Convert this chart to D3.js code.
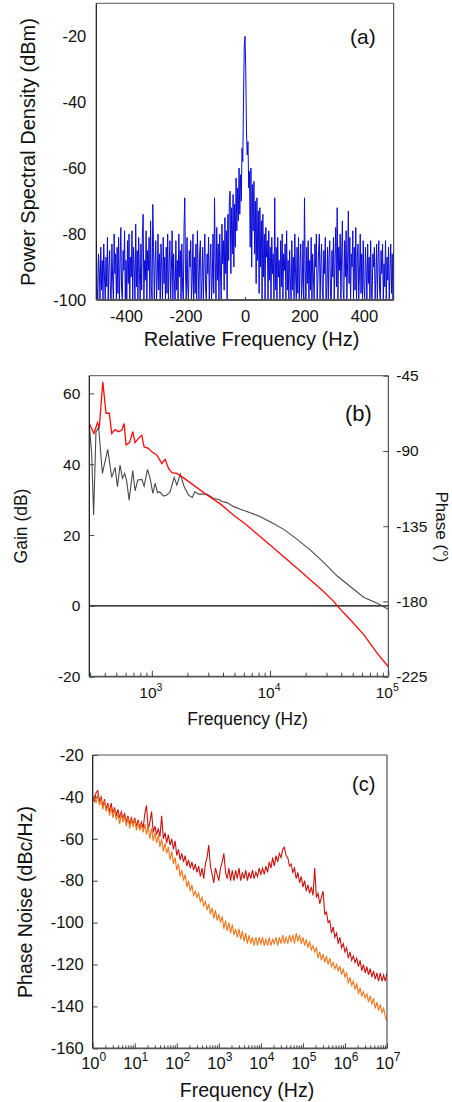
<!DOCTYPE html>
<html>
<head>
<meta charset="utf-8">
<script src="https://cdn.jsdelivr.net/npm/d3@7"></script>
<style>
  html, body { margin: 0; padding: 0; background: #fff; }
  svg { display: block; }
  text { font-family: "Liberation Sans", Arial, sans-serif; fill: #111; }
</style>
</head>
<body>
<svg id="chart" width="452" height="1102"></svg>
<script>
// ---------------- DATA ----------------
// Panel (a): power spectral density vs relative frequency (2.5 Hz grid, -500..500)
const freqA = d3.range(0, 401).map(i => -500 + i * 2.5);
const psdA = [
  -82,-95,-100,-86,-91,-100,-84,-97,-88,-100,-83,-93,-100,-87,-96,-81,-100,-90,-85,-99,
  -100,-83,-94,-100,-80,-92,-86,-100,-84,-98,-81,-100,-89,-78,-97,-100,-85,-91,-79,-100,
  -88,-100,-82,-95,-80,-100,-87,-93,-79,-100,-84,-90,-100,-77,-96,-85,-100,-81,-92,-100,
  -83,-97,-80,-74,-100,-88,-94,-79,-100,-85,-91,-81,-100,-76,-96,-100,-71,-84,-100,-89,
  -82,-100,-93,-80,-97,-86,-100,-83,-90,-100,-81,-95,-87,-100,-84,-98,-80,-100,-89,-82,
  -100,-91,-79,-100,-86,-95,-100,-82,-97,-88,-100,-80,-93,-85,-100,-83,-96,-100,-78,-69,
  -92,-100,-81,-96,-100,-85,-90,-82,-100,-94,-80,-100,-87,-98,-83,-100,-79,-91,-100,-86,
  -82,-100,-95,-84,-100,-88,-80,-97,-100,-86,-92,-81,-100,-89,-83,-100,-94,-80,-98,-69,
  -88,-100,-78,-94,-83,-100,-80,-91,-100,-77,-89,-82,-97,-75,-92,-79,-100,-74,-88,-70,
  -67,-92,-72,-86,-68,-90,-71,-84,-63,-79,-66,-76,-60,-74,-62,-70,-54,-58,-40,-23,
  -20,-30,-49,-56,-52,-66,-61,-84,-60,-90,-65,-79,-64,-86,-70,-95,-69,-88,-73,-98,
  -72,-90,-76,-100,-74,-93,-80,-100,-78,-87,-82,-100,-79,-94,-84,-100,-81,-92,-86,-100,
  -69,-97,-84,-100,-81,-93,-88,-100,-82,-96,-80,-100,-86,-91,-83,-100,-79,-97,-88,-100,
  -85,-94,-100,-82,-97,-87,-100,-80,-92,-100,-84,-98,-81,-100,-89,-83,-100,-95,-82,-100,
  -69,-91,-100,-84,-95,-82,-100,-88,-97,-81,-100,-86,-93,-100,-83,-90,-80,-100,-94,-85,
  -80,-100,-89,-83,-97,-100,-85,-92,-81,-100,-96,-84,-100,-87,-82,-99,-100,-85,-93,-81,
  -100,-88,-78,-96,-72,-100,-84,-91,-80,-100,-86,-76,-97,-100,-82,-93,-79,-100,-88,-73,
  -95,-81,-100,-86,-90,-79,-100,-84,-97,-78,-100,-88,-83,-100,-92,-80,-98,-86,-100,-82,
  -96,-100,-84,-91,-100,-83,-95,-87,-100,-82,-98,-100,-86,-90,-84,-100,-93,-83,-100,-88,
  -82,-97,-100,-85,-92,-83,-100,-89,-96,-82,-100,-87,-94,-84,-100,-91,-83,-98,-86,-100,
  -85
];
const xTicksA = [-400, -200, 0, 200, 400];
const yTicksA = [-100, -80, -60, -40, -20];

// Panel (b): loop gain (dB) and phase (deg) vs frequency
const gainFreq = [296,324,347,360,385,410,437,458,489,522,557,583,606,647,690,722,771,822,861,937,
  1000,1102,1215,1297,1384,1476,1628,1795,2254,2924,3793,4920,6380,8279,10000,13060,16940,21980,
  28510,34670,36980,47970,62230,80720,100000];
const gainDb = [51.5,48.7,51.7,50.6,63.3,54.4,54.4,48.7,49.8,49.2,49.6,51.5,45.4,46.1,49.2,46.1,47.3,48.2,44.9,44.5,
  43.5,42.6,40.2,41.4,38.8,37.6,37.4,36.5,34.1,31.3,28.8,25.6,22.8,19.5,17.2,13.9,10.6,7.3,
  4.0,1.2,0,-4.0,-8.2,-13.4,-17.2];
const phaseFreq = [296,310,322,337,355,382,402,424,458,489,512,539,564,590,614,643,690,722,761,823,
  861,919,968,1020,1067,1117,1161,1256,1340,1430,1546,1629,1739,1879,2045,2197,2314,2486,2924,3332,
  3673,3920,4322,4921,5606,6813,8279,10000,13060,16940,21980,28510,36980,47970,62230,80720,100000];
const phaseDeg = [-74.5,-91.4,-128.3,-78.5,-75.9,-103.4,-96.4,-89.1,-105.8,-99.8,-111.4,-98.4,-106.4,-103.4,-108.4,-119.4,-101.8,-113.8,-107.4,-107.0,
  -111.0,-101.0,-106.4,-115.4,-109.4,-115.0,-114.4,-117.0,-116.4,-114.4,-105.8,-110.4,-103.8,-111.4,-116.4,-117.8,-114.4,-115.8,-115.8,-118.4,
  -119.0,-120.2,-120.9,-123.3,-124.9,-126.9,-129.3,-132.3,-136.9,-142.9,-149.3,-156.8,-164.8,-171.2,-177.6,-181.1,-184.7];
const yTicksGain = [-20, 0, 20, 40, 60];
const yTicksPhase = [-225, -180, -135, -90, -45];
const xDecadesB = [3, 4, 5];

// Panel (c): phase noise (dBc/Hz) on a 0.04-decade grid from 1 Hz to 10 MHz
const logFreqC = d3.range(0, 176).map(i => i * 0.04);
const noiseRed = [
  -40,-42,-38,-37,-42,-40,-45,-41,-46,-43,-47,-43,-48,-45,-49,-46,-50,-47,-50,-48,-52,-49,-53,-50,-53,
  -50,-54,-51,-55,-52,-55,-48,-44,-56,-52,-47,-57,-54,-58,-55,-59,-49,-60,-57,-62,-58,-63,-60,-65,-61,
  -68,-65,-70,-67,-71,-68,-73,-70,-74,-71,-75,-72,-76,-73,-78,-74,-79,-72,-69,-63,-73,-77,-81,-74,-77,
  -80,-74,-71,-67,-76,-79,-74,-80,-75,-80,-75,-79,-74,-80,-76,-79,-75,-80,-76,-79,-75,-79,-76,-78,-74,
  -77,-74,-77,-73,-76,-71,-74,-69,-73,-68,-71,-67,-69,-65,-64,-68,-69,-73,-72,-76,-74,-79,-76,-81,-78,
  -83,-80,-85,-82,-86,-83,-87,-74,-88,-86,-91,-88,-85,-96,-95,-100,-99,-105,-102,-107,-105,-110,-107,-112,-110,
  -114,-112,-117,-114,-118,-116,-119,-117,-121,-118,-123,-120,-124,-121,-125,-122,-126,-123,-127,-124,-128,-124,-128,-125,-128,
  -124
];
const noiseOrange = [
  -42,-39,-43,-39,-44,-41,-46,-42,-47,-44,-49,-45,-50,-46,-51,-48,-53,-48,-52,-49,-54,-50,-55,-51,-54,
  -51,-56,-52,-56,-53,-57,-53,-58,-54,-60,-55,-61,-57,-62,-58,-64,-60,-66,-62,-67,-64,-70,-66,-72,-69,
  -75,-72,-78,-75,-80,-77,-83,-80,-85,-82,-87,-85,-88,-86,-90,-88,-92,-90,-94,-91,-96,-93,-98,-94,-99,
  -96,-100,-97,-103,-99,-104,-100,-105,-101,-106,-103,-107,-103,-108,-104,-109,-105,-110,-106,-110,-107,-111,-107,-111,-107,
  -110,-107,-111,-108,-111,-107,-111,-108,-110,-107,-111,-107,-110,-106,-110,-107,-110,-106,-109,-106,-110,-105,-109,-106,-110,
  -107,-111,-108,-112,-109,-113,-111,-114,-112,-117,-114,-118,-115,-119,-116,-120,-117,-121,-119,-122,-120,-123,-121,-125,-122,
  -126,-124,-129,-126,-130,-128,-132,-129,-134,-131,-135,-133,-136,-134,-138,-135,-139,-136,-141,-138,-142,-139,-143,-141,-145,
  -147
];
const yTicksC = [-160, -140, -120, -100, -80, -60, -40, -20];
const xDecadesC = [0, 1, 2, 3, 4, 5, 6, 7];

// ---------------- DRAW ----------------
const svg = d3.select("#chart");
const FONT = '"Liberation Sans", Arial, sans-serif';
const fmt = d => String(d);

function minorTicks(lo, hi) {
  const out = [];
  for (let e = Math.floor(Math.log10(lo)); e <= Math.ceil(Math.log10(hi)); e++) {
    for (let m = 2; m <= 9; m++) {
      const v = m * Math.pow(10, e);
      if (v > lo && v < hi) out.push(v);
    }
  }
  return out;
}

function frame(g, x0, x1, y0, y1) {
  g.append("line").attr("x1", x0).attr("x2", x1).attr("y1", y0).attr("y2", y0)
    .attr("stroke", "#555").attr("stroke-width", 1);
  g.append("line").attr("x1", x1).attr("x2", x1).attr("y1", y0).attr("y2", y1)
    .attr("stroke", "#333").attr("stroke-width", 1);
  g.append("line").attr("x1", x0).attr("x2", x0).attr("y1", y0).attr("y2", y1)
    .attr("stroke", "#111").attr("stroke-width", 1.2);
  g.append("line").attr("x1", x0).attr("x2", x1).attr("y1", y1).attr("y2", y1)
    .attr("stroke", "#555").attr("stroke-width", 1.8);
}

function clip(id, x0, x1, y0, y1) {
  svg.append("defs").append("clipPath").attr("id", id)
    .append("rect").attr("x", x0).attr("y", y0).attr("width", x1 - x0).attr("height", y1 - y0);
}

function styleAxis(g, size) {
  g.select(".domain").remove();
  g.selectAll(".tick line").attr("stroke", "#444");
  g.selectAll(".tick text").attr("font-size", size).attr("font-family", FONT).attr("fill", "#111");
}

// ===== Panel (a) =====
{
  const L = 96.3, R = 393.7, T = 3.3, B = 300;
  const x = d3.scaleLinear().domain([-500, 500]).range([L, R]);
  const y = d3.scaleLinear().domain([-100, -10]).range([B, T]);
  clip("clipA", L, R, T, B + 1);
  const g = svg.append("g");
  g.append("path")
    .datum(freqA.map((f, i) => [f, psdA[i]]))
    .attr("clip-path", "url(#clipA)")
    .attr("fill", "none").attr("stroke", "#0b0bd6").attr("stroke-width", 1)
    .attr("stroke-linejoin", "round")
    .attr("d", d3.line().x(d => x(d[0])).y(d => y(d[1])));
  frame(g, L, R, T, B);
  const ax = g.append("g").attr("transform", `translate(0,${B})`)
    .call(d3.axisBottom(x).tickValues(xTicksA).tickSize(-3).tickPadding(10).tickFormat(fmt));
  styleAxis(ax, 16.5);
  const ay = g.append("g").attr("transform", `translate(${L},0)`)
    .call(d3.axisLeft(y).tickValues(yTicksA).tickSize(0).tickPadding(10).tickFormat(fmt));
  styleAxis(ay, 16.5);
  g.append("text").attr("x", 251.5).attr("y", 346).attr("text-anchor", "middle")
    .attr("font-size", 20).text("Relative Frequency (Hz)");
  g.append("text").attr("transform", "translate(35,152) rotate(-90)").attr("text-anchor", "middle")
    .attr("font-size", 20).text("Power Spectral Density (dBm)");
  g.append("text").attr("x", 350).attr("y", 44).attr("font-size", 21).text("(a)");
}

// ===== Panel (b) =====
{
  const L = 89.3, R = 388.3, T = 375.7, B = 676.7;
  const x = d3.scaleLog().domain([296, 1e5]).range([L, R]);
  const yG = d3.scaleLinear().domain([-20, 65]).range([B, T]);
  const yP = d3.scaleLinear().domain([-225, -45]).range([B, T]);
  clip("clipB", L, R, T, B);
  const g = svg.append("g");
  g.append("line").attr("x1", L).attr("x2", R).attr("y1", yG(0)).attr("y2", yG(0))
    .attr("stroke", "#000").attr("stroke-width", 1.2);
  g.append("path")
    .datum(phaseFreq.map((f, i) => [f, phaseDeg[i]]))
    .attr("clip-path", "url(#clipB)")
    .attr("fill", "none").attr("stroke", "#4a4a4a").attr("stroke-width", 1.1)
    .attr("d", d3.line().x(d => x(d[0])).y(d => yP(d[1])));
  g.append("path")
    .datum(gainFreq.map((f, i) => [f, gainDb[i]]))
    .attr("clip-path", "url(#clipB)")
    .attr("fill", "none").attr("stroke", "#ff0a0a").attr("stroke-width", 1.3)
    .attr("d", d3.line().x(d => x(d[0])).y(d => yG(d[1])));
  frame(g, L, R, T, B);
  const axMinor = g.append("g").attr("transform", `translate(0,${B})`)
    .call(d3.axisBottom(x).tickValues(minorTicks(296, 1e5)).tickSize(-4).tickFormat(""));
  styleAxis(axMinor, 10);
  const axMajor = g.append("g").attr("transform", `translate(0,${B})`)
    .call(d3.axisBottom(x).tickValues(xDecadesB.map(e => Math.pow(10, e))).tickSize(-6).tickFormat(""));
  styleAxis(axMajor, 10);
  xDecadesB.forEach(e => {
    const t = g.append("text").attr("x", x(Math.pow(10, e)) - 1).attr("y", 698)
      .attr("text-anchor", "middle").attr("font-size", 15.5);
    t.append("tspan").text("10");
    t.append("tspan").attr("dy", -7).attr("font-size", 10.5).text(e);
  });
  const ayL = g.append("g").attr("transform", `translate(${L},0)`)
    .call(d3.axisLeft(yG).tickValues(yTicksGain).tickSize(-5).tickPadding(9).tickFormat(fmt));
  styleAxis(ayL, 15.5);
  const ayR = g.append("g").attr("transform", `translate(${R},0)`)
    .call(d3.axisRight(yP).tickValues(yTicksPhase).tickSize(-5).tickPadding(8).tickFormat(fmt));
  styleAxis(ayR, 15.5);
  g.append("text").attr("x", 247.5).attr("y", 725).attr("text-anchor", "middle")
    .attr("font-size", 17.5).text("Frequency (Hz)");
  g.append("text").attr("transform", "translate(27,526) rotate(-90)").attr("text-anchor", "middle")
    .attr("font-size", 17.5).text("Gain (dB)");
  g.append("text").attr("transform", "translate(436,527) rotate(90)").attr("text-anchor", "middle")
    .attr("font-size", 17).text("Phase (°)");
  g.append("text").attr("x", 345).attr("y", 421).attr("font-size", 22).text("(b)");
}

// ===== Panel (c) =====
{
  const L = 92.7, R = 387, T = 755, B = 1048.3;
  const x = d3.scaleLog().domain([1, 1e7]).range([L, R]);
  const y = d3.scaleLinear().domain([-160, -20]).range([B, T]);
  clip("clipC", L, R, T, B);
  const g = svg.append("g");
  const line = d3.line().x(d => x(d[0])).y(d => y(d[1]));
  g.append("path")
    .datum(logFreqC.map((lf, i) => [Math.pow(10, lf), noiseRed[i]]))
    .attr("clip-path", "url(#clipC)")
    .attr("fill", "none").attr("stroke", "#c8120e").attr("stroke-width", 1.1)
    .attr("d", line);
  g.append("path")
    .datum(logFreqC.map((lf, i) => [Math.pow(10, lf), noiseOrange[i]]))
    .attr("clip-path", "url(#clipC)")
    .attr("fill", "none").attr("stroke", "#f2751c").attr("stroke-width", 1.1)
    .attr("d", line);
  frame(g, L, R, T, B);
  const axMinor = g.append("g").attr("transform", `translate(0,${B})`)
    .call(d3.axisBottom(x).tickValues(minorTicks(1, 1e7)).tickSize(-3).tickFormat(""));
  styleAxis(axMinor, 10);
  const axMajor = g.append("g").attr("transform", `translate(0,${B})`)
    .call(d3.axisBottom(x).tickValues(xDecadesC.map(e => Math.pow(10, e))).tickSize(-5).tickFormat(""));
  styleAxis(axMajor, 10);
  xDecadesC.forEach(e => {
    const t = g.append("text").attr("x", x(Math.pow(10, e)) + 1).attr("y", 1069)
      .attr("text-anchor", "middle").attr("font-size", 16.5);
    t.append("tspan").text("10");
    t.append("tspan").attr("dy", -8).attr("font-size", 12).text(e);
  });
  const ay = g.append("g").attr("transform", `translate(${L},0)`)
    .call(d3.axisLeft(y).tickValues(yTicksC).tickSize(-5).tickPadding(9).tickFormat(fmt));
  styleAxis(ay, 16.5);
  g.append("text").attr("x", 247).attr("y", 1097).attr("text-anchor", "middle")
    .attr("font-size", 19.5).text("Frequency (Hz)");
  g.append("text").attr("transform", "translate(32,902) rotate(-90)").attr("text-anchor", "middle")
    .attr("font-size", 19.5).text("Phase Noise (dBc/Hz)");
  g.append("text").attr("x", 352).attr("y", 791).attr("font-size", 20).text("(c)");
}
</script>
</body>
</html>
